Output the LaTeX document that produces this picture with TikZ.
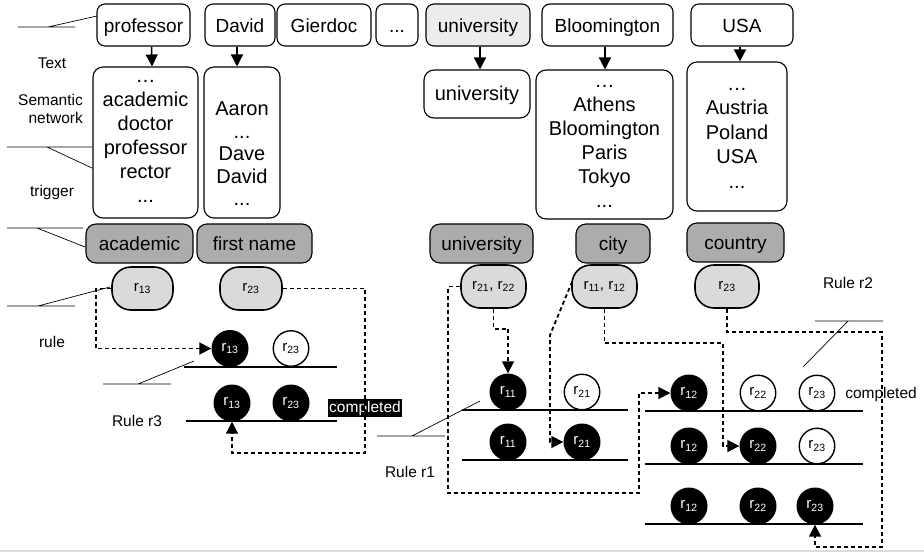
\documentclass[tikz,border=0pt]{standalone}
\usepackage{fontspec}
\setmainfont{Liberation Sans}
\usetikzlibrary{arrows.meta}
\definecolor{triggray}{RGB}{172,172,172}
\definecolor{rulegray}{RGB}{218,218,218}
\definecolor{hilite}{RGB}{236,236,236}
\newcommand{\rr}[1]{r\textsubscript{#1}}
\begin{document}
\begin{tikzpicture}[x=1pt,y=-1pt,
  word/.style={draw, rounded corners=8, line width=1.1, inner sep=0,
    minimum height=42, text height=18.5, text depth=3.5,
    font=\fontsize{19}{19}\selectfont},
  netbox/.style={draw, rounded corners=10, line width=1.1, inner sep=0},
  nettext/.style={align=center, inner sep=0, font=\fontsize{20}{24}\selectfont},
  trig/.style={draw, fill=triggray, rounded corners=10, line width=1.1, inner sep=0,
    minimum height=39, text height=17, text depth=4,
    font=\fontsize{19}{19}\selectfont},
  ruleoval/.style={draw, fill=rulegray, rounded corners=19, line width=1.6, inner sep=0,
    minimum height=43, font=\fontsize{15}{15}\selectfont},
  ron/.style={circle, fill=black, text=white, minimum size=37, inner sep=0,
    font=\fontsize{15}{15}\selectfont},
  roff/.style={circle, draw, line width=1.4, fill=white, minimum size=35.5, inner sep=0,
    font=\fontsize{15}{15}\selectfont},
  track/.style={line width=1.8},
  lead/.style={line width=0.7},
  flow/.style={line width=1.8, dash pattern=on 4pt off 3pt},
  tip/.style={-{Triangle[length=12pt,width=12pt]}},
  lbl/.style={inner sep=0, font=\fontsize{15.5}{18}\selectfont}
]
\useasboundingbox (0,0) rectangle (924,555);
\fill[white] (0,0) rectangle (924,555);
\draw[line width=2, black!14] (0,551) -- (924,551);

% ---- text tokens
\node[word, minimum width=93] (wprof) at (143.5,25) {professor};
\node[word, minimum width=70] (wdav) at (240,25) {David};
\node[word, minimum width=94] (wgier) at (324,25) {Gierdoc};
\node[word, minimum width=42] (wdots) at (397,25) {...};
\node[word, minimum width=104, fill=hilite] (wuni) at (478,25) {university};
\node[word, minimum width=131] (wbloom) at (607.5,25) {Bloomington};
\node[word, minimum width=102] (wusa) at (742,25) {USA};

% ---- semantic network entries
\node[netbox, minimum width=105, minimum height=151] (nprof) at (145.5,142.5) {};
\node[nettext] (tprof) at (145.5,141) {…\\academic\\doctor\\professor\\rector\\...};
\node[netbox, minimum width=76, minimum height=151] (ndav) at (242,142.5) {};
\node[nettext, font=\fontsize{20}{22.5}\selectfont] (tdav) at (242,154) {Aaron\\...\\Dave\\David\\...};
\node[netbox, minimum width=106, minimum height=48, text height=16, text depth=4,
  font=\fontsize{20}{20}\selectfont] (nuni) at (477,94) {university};
\node[netbox, minimum width=137, minimum height=149] (nbloom) at (604.5,144.5) {};
\node[nettext] (tbloom) at (604.5,146) {…\\Athens\\Bloomington\\Paris\\Tokyo\\...};
\node[netbox, minimum width=100, minimum height=149] (nusa) at (737,136.5) {};
\node[nettext, font=\fontsize{20}{24.5}\selectfont] (tusa) at (737,138) {…\\Austria\\Poland\\USA\\...};

\draw[line width=1.5, tip] ([xshift=8]wprof.south) -- ([xshift=6.5]nprof.north);
\draw[line width=1.5, tip] ([xshift=-3]wdav.south) -- ([xshift=-5]ndav.north);
\draw[line width=1.5, tip] ([xshift=2]wuni.south) -- ([xshift=3]nuni.north);
\draw[line width=1.5, tip] ([xshift=-2.5]wbloom.south) -- ([xshift=0.5]nbloom.north);
\draw[line width=1.5, tip] ([xshift=-2]wusa.south) -- ([xshift=3]nusa.north);

% ---- triggers
\node[trig, minimum width=107] (gacad) at (139.5,243.5) {academic};
\node[trig, minimum width=115] (gfirst) at (254.5,243.5) {first name};
\node[trig, minimum width=103] (guni) at (481.5,243.5) {university};
\node[trig, minimum width=74] (gcity) at (613,243.5) {city};
\node[trig, minimum width=97] (gcountry) at (735.5,242.5) {country};

% ---- rules attached to triggers
\node[ruleoval, minimum width=61] (o13) at (142.5,288.5) {\rr{13}};
\node[ruleoval, minimum width=62] (o23a) at (251,288.5) {\rr{23}};
\node[ruleoval, minimum width=65] (o2122) at (493.5,286.5) {\rr{21}, \rr{22}};
\node[ruleoval, minimum width=65] (o1112) at (604.5,286.5) {\rr{11}, \rr{12}};
\node[ruleoval, minimum width=64] (o23b) at (727,286.5) {\rr{23}};

% ---- rule r3
\node[ron] (a13) at (230,348.5) {\rr{13}};
\node[roff] (a23) at (291,348.5) {\rr{23}};
\draw[track] (184,367) -- (337,367);
\node[ron] (b13) at (232,403) {\rr{13}};
\node[ron] (b23) at (291,403) {\rr{23}};
\draw[track] (186,421) -- (337,421);
\node[fill=black, text=white, inner sep=1.5, font=\fontsize{15.5}{18}\selectfont] (done3) at (365,408) {completed};

% ---- rule r1
\node[ron] (c11) at (508,392) {\rr{11}};
\node[roff] (c21) at (582,392) {\rr{21}};
\draw[track] (462,410) -- (628,410);
\node[ron] (d11) at (508,442) {\rr{11}};
\node[ron] (d21) at (582,442) {\rr{21}};
\draw[track] (462,460) -- (628,460);

% ---- rule r2
\node[ron] (e12) at (689,393) {\rr{12}};
\node[roff] (e22) at (758,393) {\rr{22}};
\node[roff] (e23) at (817,393) {\rr{23}};
\draw[track] (645,411) -- (863,411);
\node[ron] (f12) at (689,446) {\rr{12}};
\node[ron] (f22) at (758,446) {\rr{22}};
\node[roff] (f23) at (817,446) {\rr{23}};
\draw[track] (645,464) -- (863,464);
\node[ron] (g12) at (689,506) {\rr{12}};
\node[ron] (g22) at (758,506) {\rr{22}};
\node[ron] (g23) at (815,506) {\rr{23}};
\draw[track] (645,524) -- (863,524);
\node[lbl] (done2) at (881,394) {completed};

% ---- activation flow
\draw[flow, tip] (o13.west) -- ++(-15,0) |- (a13.west);
\draw[flow, tip] (o23a.east) -| (365,453) -| (b13.south);
\draw[flow, tip] (o2122.south) -- ++(0,20) -| (c11.north);
\draw[flow, tip] (o2122.west) -- ++(-12,0) |- (639,493) |- (e12.west);
\draw[flow, tip] ([xshift=1,yshift=5]o1112.west) -- (550,335) |- (d21.west);
\draw[flow, tip] (o1112.south) |- (723,343) |- (f22.west);
\draw[flow, tip] (o23b.south) |- (882,332) -- (882,547) -| (g23.south);

% ---- layer labels and leader lines
\node[lbl] (ltext) at (52,63) {Text};
\node[lbl, align=right, anchor=east, font=\fontsize{15.5}{18.5}\selectfont] (lsem) at (83,109) {Semantic\\network};
\node[lbl] (ltrig) at (52,192) {trigger};
\node[lbl] (lrule) at (52,342) {rule};
\node[lbl] (lr3) at (137,421) {Rule r3};
\node[lbl] (lr1) at (410,472) {Rule r1};
\node[lbl] (lr2) at (848,283) {Rule r2};

\draw[lead] (18,27) -- (75,27) (48,27) -- (97,16);
\draw[lead] (7,147) -- (92,147) (47,147) -- (92,168);
\draw[lead] (7,228) -- (83,228) (37,228) -- (85,247);
\draw[lead] (7,306) -- (75,306) (38,306) -- (110,287);
\draw[lead] (103,384) -- (171,384) (138,384) -- (194,361);
\draw[lead] (377,436) -- (445,436) (412,436) -- (480,401);
\draw[lead] (815,321) -- (883,321) (848,321) -- (803,367);
\end{tikzpicture}
\end{document}
